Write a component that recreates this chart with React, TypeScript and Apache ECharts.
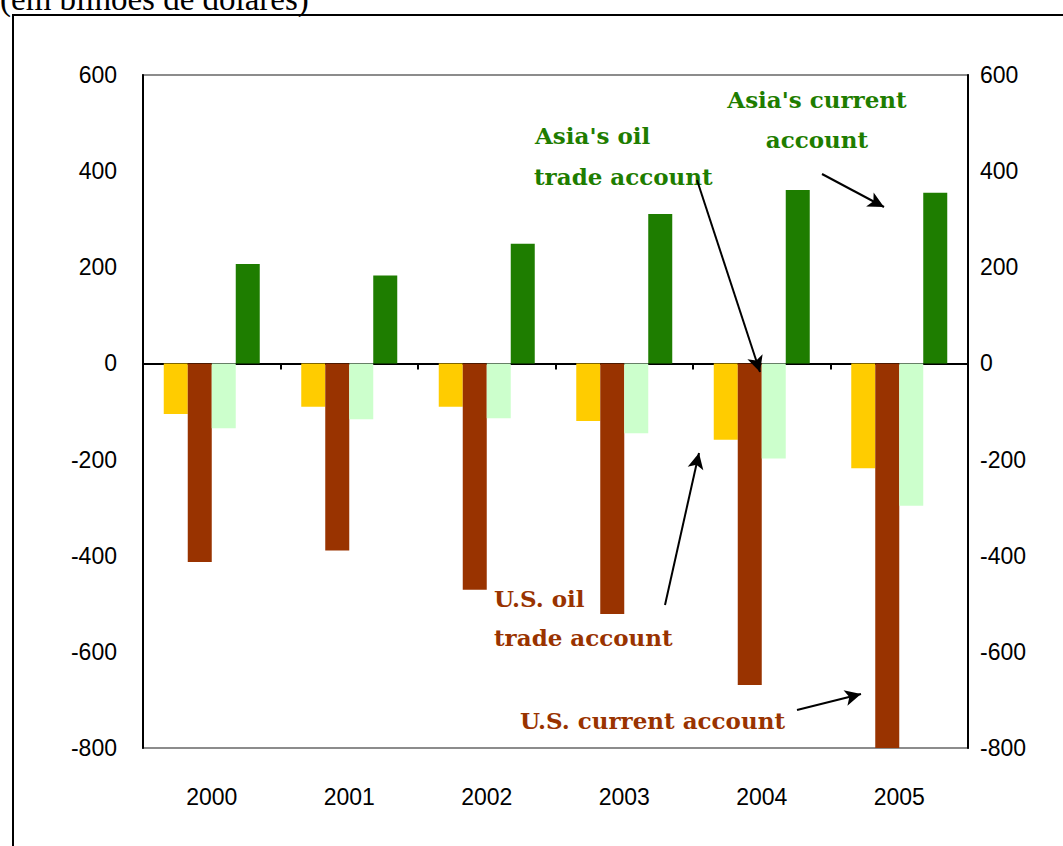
import React, { useEffect, useRef } from "react";
import * as echarts from "echarts";

const years = ["2000", "2001", "2002", "2003", "2004", "2005"];
const usOilTrade = [-105, -90, -90, -120, -159, -218];
const usCurrent = [-413, -389, -471, -521, -669, -800];
const asiaOilTrade = [-135, -116, -114, -145, -198, -296];
const asiaCurrent = [207, 183, 249, 311, 361, 355];
const yTicks = { min: -800, max: 600, interval: 200 };

const GREEN = "#1e7d00";
const BROWN = "#993300";

export default function App() {
  const ref = useRef<HTMLDivElement>(null);
  useEffect(() => {
    document.body.style.margin = "0";
    const chart = echarts.init(ref.current!, null, { renderer: "svg" });
    const axisLabel = {
      fontFamily: "Liberation Sans",
      fontSize: 23,
      color: "#000",
    };
    const annot = (text: string, x: number, y: number, color: string, align = "left") => ({
      type: "text",
      x,
      y,
      style: {
        text,
        fill: color,
        font: "bold 23px 'DejaVu Serif'",
        align,
        verticalAlign: "middle",
      },
      z: 20,
    });
    const arrows = [
      [{ x: 822, y: 174 }, { x: 884, y: 207 }],
      [{ x: 697, y: 180 }, { x: 760, y: 372 }],
      [{ x: 665, y: 605 }, { x: 699, y: 453 }],
      [{ x: 797, y: 710 }, { x: 861, y: 694 }],
    ];
    const bar = (name: string, data: number[], color: string, extra: any = {}) => ({
      name,
      type: "bar",
      data,
      barWidth: 24,
      barGap: "0%",
      itemStyle: { color },
      ...extra,
    });
    chart.setOption({
      animation: false,
      grid: {
        left: 143,
        right: 95,
        top: 75,
        bottom: 98,
        show: true,
        borderColor: "#8c8c8c",
        borderWidth: 2,
        backgroundColor: "transparent",
      },
      xAxis: [
        {
          type: "category",
          data: years,
          position: "bottom",
          axisLine: { show: false, onZero: false },
          axisTick: { show: false },
          axisLabel: { ...axisLabel, margin: 37 },
        },
        {
          type: "category",
          data: years,
          position: "bottom",
          axisLine: { show: true, onZero: true, lineStyle: { color: "#000", width: 2 } },
          axisTick: { show: true, length: 6, lineStyle: { color: "#000", width: 2 } },
          axisLabel: { show: false },
        },
      ],
      yAxis: [
        {
          type: "value",
          ...yTicks,
          position: "left",
          axisLine: { show: true, lineStyle: { color: "#000", width: 2 } },
          axisTick: { show: false },
          splitLine: { show: false },
          axisLabel: { ...axisLabel, margin: 26 },
        },
        {
          type: "value",
          ...yTicks,
          position: "right",
          axisLine: { show: true, lineStyle: { color: "#000", width: 2 } },
          axisTick: { show: false },
          splitLine: { show: false },
          axisLabel: { ...axisLabel, margin: 12 },
        },
      ],
      series: [
        bar("U.S. oil trade account", usOilTrade, "#ffcc00", {
          markLine: {
            silent: true,
            symbol: ["none", "arrow"],
            symbolSize: [12, 16],
            label: { show: false },
            lineStyle: { color: "#000", width: 2, type: "solid" },
            data: arrows,
            z: 30,
          },
        }),
        bar("U.S. current account", usCurrent, BROWN),
        bar("Asia's oil trade account", asiaOilTrade, "#ccffcc"),
        bar("Asia's current account", asiaCurrent, GREEN),
      ],
      graphic: [
        {
          type: "rect",
          shape: { x: 13, y: 15, width: 1100, height: 900 },
          style: { fill: "none", stroke: "#000", lineWidth: 2 },
          z: 0,
        },
        {
          type: "text",
          x: 0,
          y: 15,
          style: {
            text: "(em bilhões de dólares)",
            font: "33px 'Liberation Serif'",
            fill: "#000",
            verticalAlign: "bottom",
          },
        },
        annot("Asia's current", 817, 99, GREEN, "center"),
        annot("account", 817, 139, GREEN, "center"),
        annot("Asia's oil", 535, 135, GREEN),
        annot("trade account", 534, 176, GREEN),
        annot("U.S. oil", 494, 598, BROWN),
        annot("trade account", 494, 637, BROWN),
        annot("U.S. current account", 520, 720, BROWN),
      ],
    });
    return () => chart.dispose();
  }, []);
  return <div ref={ref} style={{ width: 1063, height: 846 }} />;
}
